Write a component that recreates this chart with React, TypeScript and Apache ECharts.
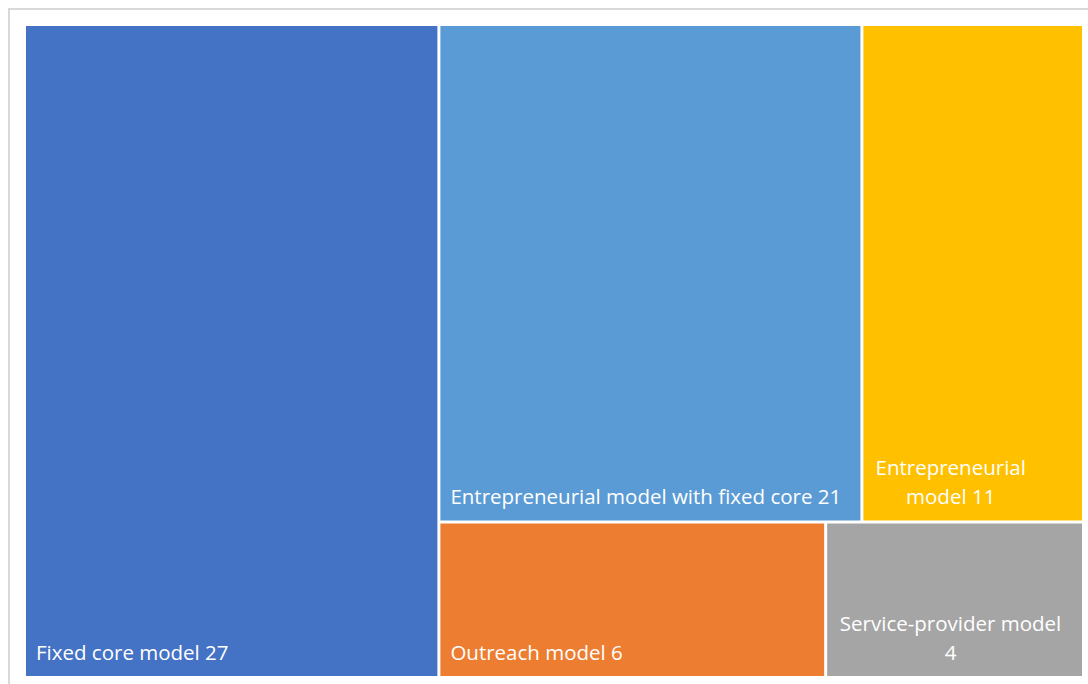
import React, { useEffect, useRef } from 'react';
import * as echarts from 'echarts';

const names = [
  'Fixed core model',
  'Entrepreneurial model with fixed core',
  'Entrepreneurial model',
  'Outreach model',
  'Service-provider model',
];
const values = [27, 21, 11, 6, 4];
const colors = ['#4472C4', '#5B9BD5', '#FFC000', '#ED7D31', '#A5A5A5'];
const labelTexts = [
  'Fixed core model 27',
  'Entrepreneurial model with fixed core 21',
  'Entrepreneurial\nmodel 11',
  'Outreach model 6',
  'Service-provider model\n4',
];
// per-leaf label shifts for wrapped (centred) labels
const labelStyles: Record<number, any> = {
  2: { position: 'insideBottom', offset: [-22, 0] },
  4: { position: 'insideBottom', offset: [-4, 0] },
};

function leaf(i: number) {
  return {
    name: names[i],
    value: values[i],
    labelText: labelTexts[i],
    itemStyle: { color: colors[i] },
    label: labelStyles[i] || {},
  };
}

export default function App() {
  const ref = useRef<HTMLDivElement>(null);
  useEffect(() => {
    if (!ref.current) return;
    const chart = echarts.init(ref.current, null, { renderer: 'svg' });
    const data = [
      leaf(0),
      {
        name: 'others',
        children: [
          { name: 'top', children: [leaf(1), leaf(2)] },
          { name: 'bottom', children: [leaf(3), leaf(4)] },
        ],
      },
    ];
    chart.setOption({
      animation: false,
      graphic: [
        {
          type: 'rect',
          silent: true,
          z: -10,
          shape: { x: 9, y: 9, width: 1100, height: 700 },
          style: { fill: 'none', stroke: '#d9d9d9', lineWidth: 2 },
        },
      ],
      series: [
        {
          type: 'treemap',
          left: 26,
          top: 26,
          right: 6,
          bottom: 8,
          roam: false,
          nodeClick: false,
          sort: false,
          silent: true,
          breadcrumb: { show: false },
          itemStyle: { borderWidth: 0, gapWidth: 3, borderColor: '#ffffff' },
          upperLabel: { show: false },
          emphasis: { disabled: true },
          label: {
            show: true,
            position: 'insideBottomLeft',
            distance: 5,
            color: '#ffffff',
            fontFamily: 'Open Sans',
            fontSize: 20.5,
            lineHeight: 29,
            overflow: 'none',
            formatter: (p: any) => (p.data && p.data.labelText) || '',
          },
          data,
        },
      ],
    });
    return () => chart.dispose();
  }, []);
  return (
    <div
      ref={ref}
      style={{ position: 'absolute', left: 0, top: 0, width: 1088, height: 684, background: '#fff' }}
    />
  );
}
